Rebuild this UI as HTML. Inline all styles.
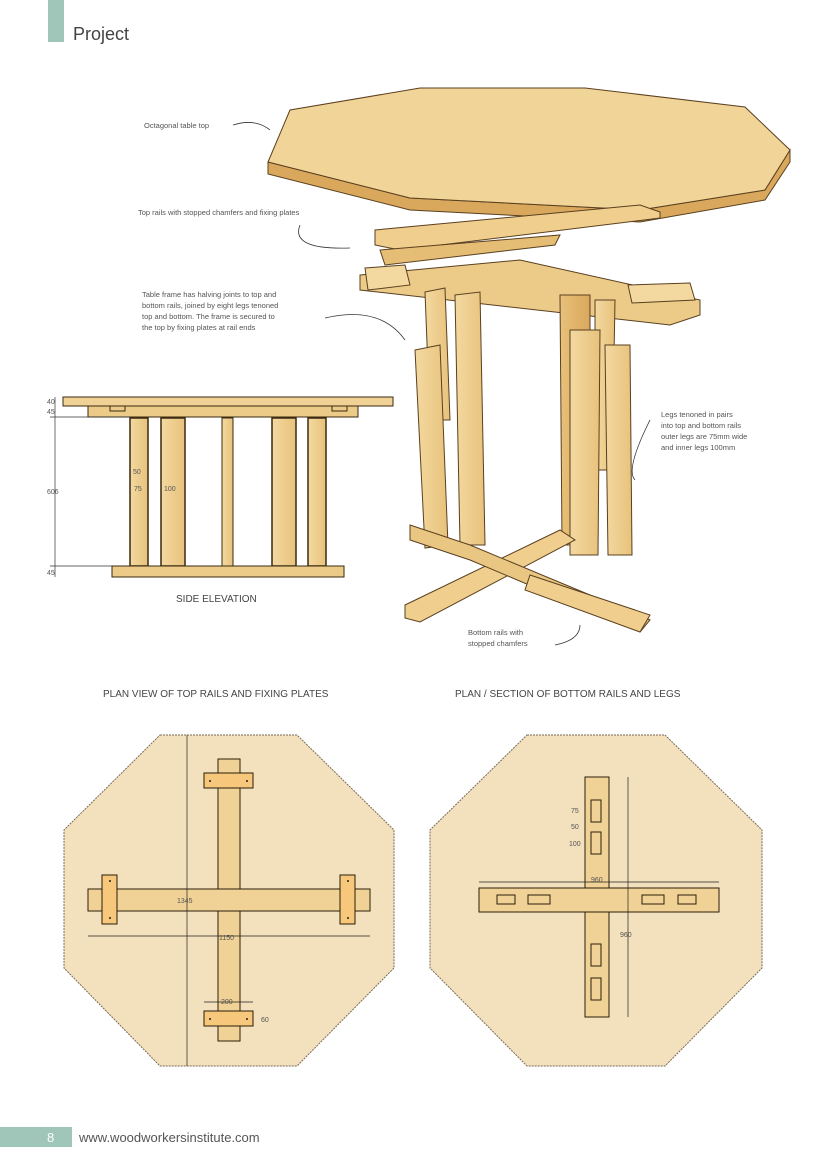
<!DOCTYPE html>
<html><head><meta charset="utf-8"><style>
body{margin:0;background:#fff}
svg{display:block}
text{font-family:"Liberation Sans",sans-serif}
</style></head><body>
<svg width="827" height="1169" viewBox="0 0 827 1169" xmlns="http://www.w3.org/2000/svg">
<defs>
<linearGradient id="w" x1="0" y1="0" x2="1" y2="0"><stop offset="0" stop-color="#f3d9a0"/><stop offset="1" stop-color="#e8c27c"/></linearGradient>
<linearGradient id="wd" x1="0" y1="0" x2="1" y2="0"><stop offset="0" stop-color="#e9c17a"/><stop offset="1" stop-color="#d9a85c"/></linearGradient>
</defs>
<rect x="48" y="0" width="16" height="42" fill="#9fc6b8"/>
<text x="73" y="40" font-size="18" fill="#444">Project</text>
<rect x="0" y="1127" width="72" height="20" fill="#9fc6b8"/>
<text x="47" y="1142" font-size="13" fill="#fff">8</text>
<text x="79" y="1142" font-size="13" fill="#555">www.woodworkersinstitute.com</text>

<polygon points="268,162 268,174 410,210 640,222 765,200 790,162 790,150 765,190 640,210 410,198" fill="#d9a85c" stroke="#5a4020" stroke-width="1"/>
<polygon points="268,162 290,110 420,88 585,88 745,107 790,150 765,190 640,210 410,198" fill="#f1d497" stroke="#5a4020" stroke-width="1"/>
<polygon points="375,230 640,205 660,212 660,218 400,250 375,245" fill="#f0cf8e" stroke="#5a4020"/>
<polygon points="360,275 520,260 700,300 700,315 670,325 360,290" fill="#eccb88" stroke="#5a4020"/>
<polygon points="380,250 560,235 555,245 385,265" fill="#e5bd75" stroke="#5a4020"/>
<polygon points="365,268 405,265 410,285 368,290" fill="#f3d8a0" stroke="#5a4020"/>
<polygon points="628,285 690,283 695,300 632,303" fill="#f3d8a0" stroke="#5a4020"/>
<g stroke="#5a4020" stroke-width="1">
<polygon points="425,292 445,288 450,420 430,420" fill="url(#w)"/>
<polygon points="455,295 480,292 485,545 460,545" fill="url(#w)"/>
<polygon points="415,350 440,345 448,545 425,548" fill="url(#w)"/>
<polygon points="560,295 590,295 590,545 562,545" fill="url(#wd)"/>
<polygon points="595,300 615,300 612,470 595,470" fill="url(#w)"/>
<polygon points="570,330 600,330 598,555 570,555" fill="url(#w)"/>
<polygon points="605,345 630,345 632,555 608,555" fill="url(#w)"/>
</g>
<polygon points="405,605 560,530 575,540 420,622 405,618" fill="#f0cf8e" stroke="#5a4020"/>
<polygon points="410,525 470,545 650,620 640,632 470,560 410,540" fill="#e9c681" stroke="#5a4020"/>
<polygon points="530,575 650,615 640,632 525,590" fill="#f0cf8e" stroke="#5a4020"/>

<g font-size="7.5" fill="#555">
<text x="144" y="128">Octagonal table top</text>
<text x="138" y="215">Top rails with stopped chamfers and fixing plates</text>
<text x="142" y="297">Table frame has halving joints to top and</text>
<text x="142" y="308">bottom rails, joined by eight legs tenoned</text>
<text x="142" y="319">top and bottom. The frame is secured to</text>
<text x="142" y="330">the top by fixing plates at rail ends</text>
<text x="661" y="417">Legs tenoned in pairs</text>
<text x="661" y="428">into top and bottom rails</text>
<text x="661" y="439">outer legs are 75mm wide</text>
<text x="661" y="450">and inner legs 100mm</text>
<text x="468" y="635">Bottom rails with</text>
<text x="468" y="646">stopped chamfers</text>
</g>
<g fill="none" stroke="#333" stroke-width="0.8">
<path d="M233,125 Q255,118 270,130"/>
<path d="M300,225 Q290,250 350,248"/>
<path d="M325,318 Q380,305 405,340"/>
<path d="M650,420 Q625,470 635,480"/>
<path d="M555,645 Q580,640 580,625"/>
</g>

<g stroke="#3a2a10" stroke-width="1">
<rect x="63" y="397" width="330" height="9" fill="#f0d296"/>
<rect x="88" y="406" width="270" height="11" fill="#eccb88"/>
<rect x="110" y="406" width="15" height="5" fill="none"/>
<rect x="332" y="406" width="15" height="5" fill="none"/>
<rect x="130" y="418" width="18" height="148" fill="url(#w)" stroke-width="1.5"/>
<rect x="161" y="418" width="24" height="148" fill="url(#w)" stroke-width="1.5"/>
<rect x="222" y="418" width="11" height="148" fill="url(#w)"/>
<rect x="272" y="418" width="24" height="148" fill="url(#w)" stroke-width="1.5"/>
<rect x="308" y="418" width="18" height="148" fill="url(#w)" stroke-width="1.5"/>
<rect x="112" y="566" width="232" height="11" fill="#eccb88"/>
</g>
<g stroke="#333" stroke-width="0.7" fill="none">
<path d="M55,397 V577 M50,417 H130 M50,566 H112"/>
</g>
<g font-size="7" fill="#555">
<text x="47" y="404">40</text><text x="47" y="414">45</text>
<text x="47" y="494">606</text><text x="47" y="575">45</text>
<text x="133" y="474">50</text><text x="134" y="491">75</text><text x="164" y="491">100</text>
</g>
<text x="176" y="602" font-size="10" fill="#444">SIDE ELEVATION</text>

<text x="103" y="697" font-size="10" fill="#444">PLAN VIEW OF TOP RAILS AND FIXING PLATES</text>
<text x="455" y="697" font-size="10" fill="#444">PLAN / SECTION OF BOTTOM RAILS AND LEGS</text>

<polygon points="160,735 297,735 394,830 394,968 297,1066 160,1066 64,968 64,830" fill="#f3e0bd" stroke="#7a6a55" stroke-dasharray="2,1"/>
<g stroke="#2a1d08" stroke-width="1">
<rect x="218" y="759" width="22" height="282" fill="#f0d296"/>
<rect x="88" y="889" width="282" height="22" fill="#f0d296"/>
<rect x="204" y="773" width="49" height="15" fill="#f7c77c"/>
<rect x="204" y="1011" width="49" height="15" fill="#f7c77c"/>
<rect x="102" y="875" width="15" height="49" fill="#f7c77c"/>
<rect x="340" y="875" width="15" height="49" fill="#f7c77c"/>
</g>
<g fill="#222"><circle cx="210" cy="781" r="1"/><circle cx="247" cy="781" r="1"/><circle cx="210" cy="1019" r="1"/><circle cx="247" cy="1019" r="1"/><circle cx="110" cy="881" r="1"/><circle cx="110" cy="918" r="1"/><circle cx="348" cy="881" r="1"/><circle cx="348" cy="918" r="1"/></g>
<g stroke="#222" stroke-width="0.7" fill="none"><path d="M187,735 V1066 M88,936 H370 M204,1002 H253"/></g>
<g font-size="7" fill="#555"><text x="177" y="903">1345</text><text x="219" y="940">1150</text><text x="221" y="1004">200</text><text x="261" y="1022">60</text></g>

<polygon points="527,735 665,735 762,830 762,968 665,1066 527,1066 430,968 430,830" fill="#f3e0bd" stroke="#7a6a55" stroke-dasharray="2,1"/>
<g stroke="#2a1d08" stroke-width="1">
<rect x="585" y="777" width="24" height="240" fill="#f0d296"/>
<rect x="479" y="888" width="240" height="24" fill="#f0d296"/>
<rect x="591" y="800" width="10" height="22" fill="none"/><rect x="591" y="832" width="10" height="22" fill="none"/>
<rect x="591" y="944" width="10" height="22" fill="none"/><rect x="591" y="978" width="10" height="22" fill="none"/>
<rect x="497" y="895" width="18" height="9" fill="none"/><rect x="528" y="895" width="22" height="9" fill="none"/>
<rect x="642" y="895" width="22" height="9" fill="none"/><rect x="678" y="895" width="18" height="9" fill="none"/>
</g>
<g stroke="#222" stroke-width="0.7" fill="none"><path d="M479,882 H719 M628,777 V1017"/></g>
<g font-size="7" fill="#555"><text x="571" y="813">75</text><text x="571" y="829">50</text><text x="569" y="846">100</text><text x="591" y="882">960</text><text x="620" y="937">960</text></g>
</svg>
</body></html>
